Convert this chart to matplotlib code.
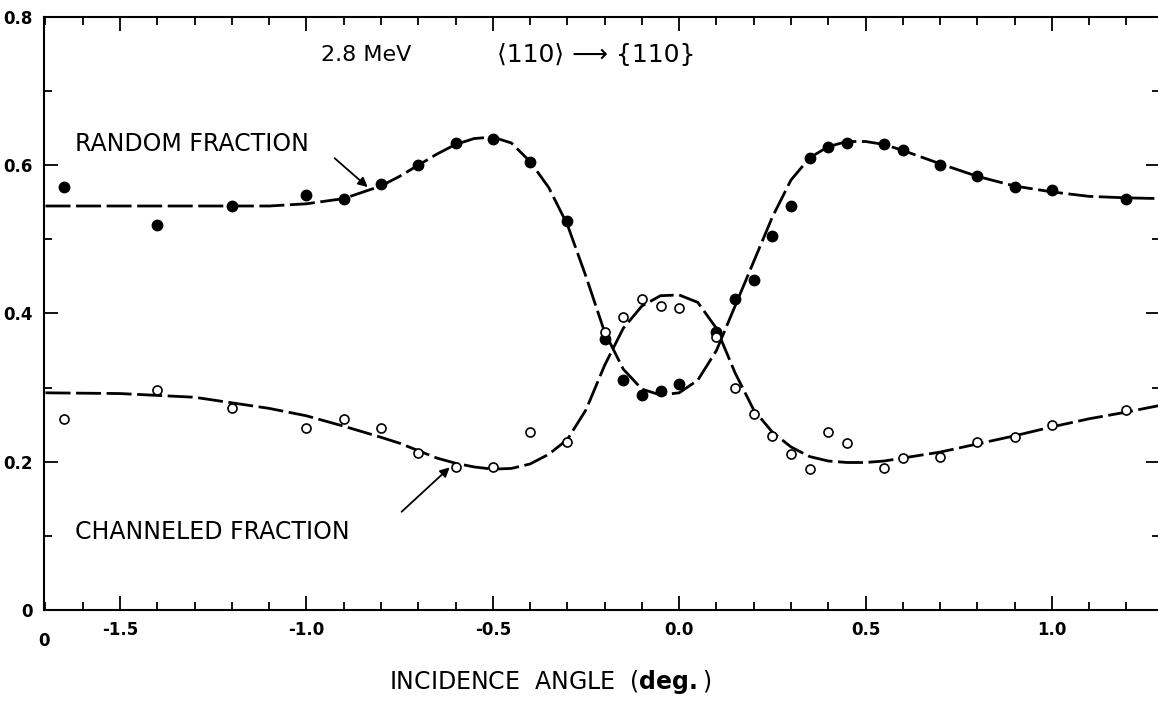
import numpy as np
import matplotlib.pyplot as plt
from matplotlib.ticker import MultipleLocator

plt.rcParams['font.family'] = ['DejaVu Sans']

angle_pts = [-1.65, -1.4, -1.2, -1.0, -0.9, -0.8, -0.7, -0.6, -0.5, -0.4, -0.3,
             -0.2, -0.15, -0.1, -0.05, 0.0, 0.1, 0.15, 0.2, 0.25, 0.3, 0.35,
             0.4, 0.45, 0.55, 0.6, 0.7, 0.8, 0.9, 1.0, 1.2]
random_pts = [0.570, 0.520, 0.545, 0.560, 0.555, 0.575, 0.600, 0.630, 0.635, 0.605, 0.525,
              0.365, 0.310, 0.290, 0.295, 0.305, 0.375, 0.420, 0.445, 0.505, 0.545, 0.610,
              0.625, 0.630, 0.628, 0.620, 0.600, 0.585, 0.570, 0.567, 0.555]
channeled_pts = [0.258, 0.297, 0.272, 0.245, 0.257, 0.245, 0.212, 0.193, 0.193, 0.240, 0.227,
                 0.375, 0.395, 0.420, 0.410, 0.408, 0.368, 0.300, 0.265, 0.235, 0.210, 0.190,
                 0.240, 0.225, 0.192, 0.205, 0.207, 0.227, 0.233, 0.250, 0.270]

# --- hand drawn fit curves (traced) ---
curve_x = [-1.70, -1.5, -1.3, -1.1, -1.0, -0.9, -0.8, -0.75, -0.7, -0.65, -0.6, -0.55,
           -0.5, -0.45, -0.4, -0.35, -0.3, -0.25, -0.2, -0.15, -0.1, -0.05, 0.0, 0.05,
           0.1, 0.15, 0.2, 0.25, 0.3, 0.35, 0.4, 0.45, 0.5, 0.55, 0.6, 0.7, 0.8, 0.9,
           1.0, 1.1, 1.2, 1.29]
random_curve = [0.545, 0.545, 0.545, 0.545, 0.548, 0.555, 0.572, 0.585, 0.600, 0.615, 0.628, 0.636,
                0.638, 0.630, 0.605, 0.570, 0.520, 0.450, 0.375, 0.325, 0.298, 0.290, 0.293, 0.310,
                0.350, 0.410, 0.470, 0.530, 0.580, 0.610, 0.625, 0.632, 0.632, 0.628, 0.620, 0.602,
                0.585, 0.572, 0.564, 0.558, 0.556, 0.555]
channeled_curve = [0.293, 0.292, 0.287, 0.272, 0.262, 0.248, 0.233, 0.225, 0.215, 0.205, 0.198, 0.193,
                   0.190, 0.191, 0.197, 0.210, 0.230, 0.270, 0.330, 0.380, 0.410, 0.424, 0.425, 0.415,
                   0.380, 0.320, 0.270, 0.240, 0.220, 0.207, 0.201, 0.199, 0.199, 0.201, 0.205, 0.213,
                   0.224, 0.235, 0.247, 0.258, 0.267, 0.276]

x_ticks = [-1.5, -1.0, -0.5, 0.0, 0.5, 1.0]
x_ticklabels = ['-1.5', '-1.0', '-0.5', '0.0', '0.5', '1.0']
y_ticks = [0, 0.2, 0.4, 0.6, 0.8]
y_ticklabels = ['0', '0.2', '0.4', '0.6', '0.8']

fig = plt.figure(figsize=(11.58, 7.04), dpi=100)
ax = fig.add_axes([0.038, 0.1335, 0.9637, 0.8424])

ax.plot(curve_x, random_curve, color='black', lw=2.0, ls=(0, (9, 2)), zorder=2)
ax.plot(curve_x, channeled_curve, color='black', lw=2.0, ls=(0, (9, 2)), zorder=2)
ax.plot(angle_pts, random_pts, 'o', color='black', ms=7.5, zorder=3)
ax.plot(angle_pts, channeled_pts, 'o', mfc='white', mec='black', mew=1.2, ms=6.5, zorder=3)

ax.set_xlim(-1.704, 1.29)
ax.set_ylim(0, 0.8)

ax.set_xticks(x_ticks)
ax.set_xticklabels(x_ticklabels, fontsize=12, fontweight='bold')
ax.xaxis.set_minor_locator(MultipleLocator(0.1))
ax.set_yticks(y_ticks)
ax.set_yticklabels(y_ticklabels, fontsize=12, fontweight='bold')
ax.yaxis.set_minor_locator(MultipleLocator(0.1))
ax.tick_params(which='major', direction='in', length=10, width=1.3, top=True, right=True, pad=8)
ax.tick_params(which='minor', direction='in', length=6, width=1.3, top=True, right=True)
for s in ax.spines.values():
    s.set_linewidth(1.5)

# odd '0' under the left corner
ax.text(-1.704, -0.03, '0', ha='center', va='top', fontsize=12, fontweight='bold')

ax.text(-0.96, 0.749, '2.8 MeV', ha='left', va='center', fontsize=16)
ax.text(-0.49, 0.749, '\u27e8110\u27e9 \u27f6 {110}', ha='left', va='center', fontsize=18)

ax.text(-1.62, 0.628, 'RANDOM FRACTION', ha='left', va='center', fontsize=17)
ax.annotate('', xy=(-0.83, 0.568), xytext=(-0.93, 0.612),
            arrowprops=dict(arrowstyle='-|>', color='black', lw=1.3, mutation_scale=14))
ax.text(-1.62, 0.105, 'CHANNELED FRACTION', ha='left', va='center', fontsize=17)
ax.annotate('', xy=(-0.61, 0.195), xytext=(-0.75, 0.13),
            arrowprops=dict(arrowstyle='-|>', color='black', lw=1.3, mutation_scale=14))

fig.text(0.475, 1 - 682 / 704, 'INCIDENCE  ANGLE  (' + r'$\mathbf{deg.}$' + ')',
         ha='center', va='center', fontsize=17)

fig.savefig('out.png', dpi=100)
